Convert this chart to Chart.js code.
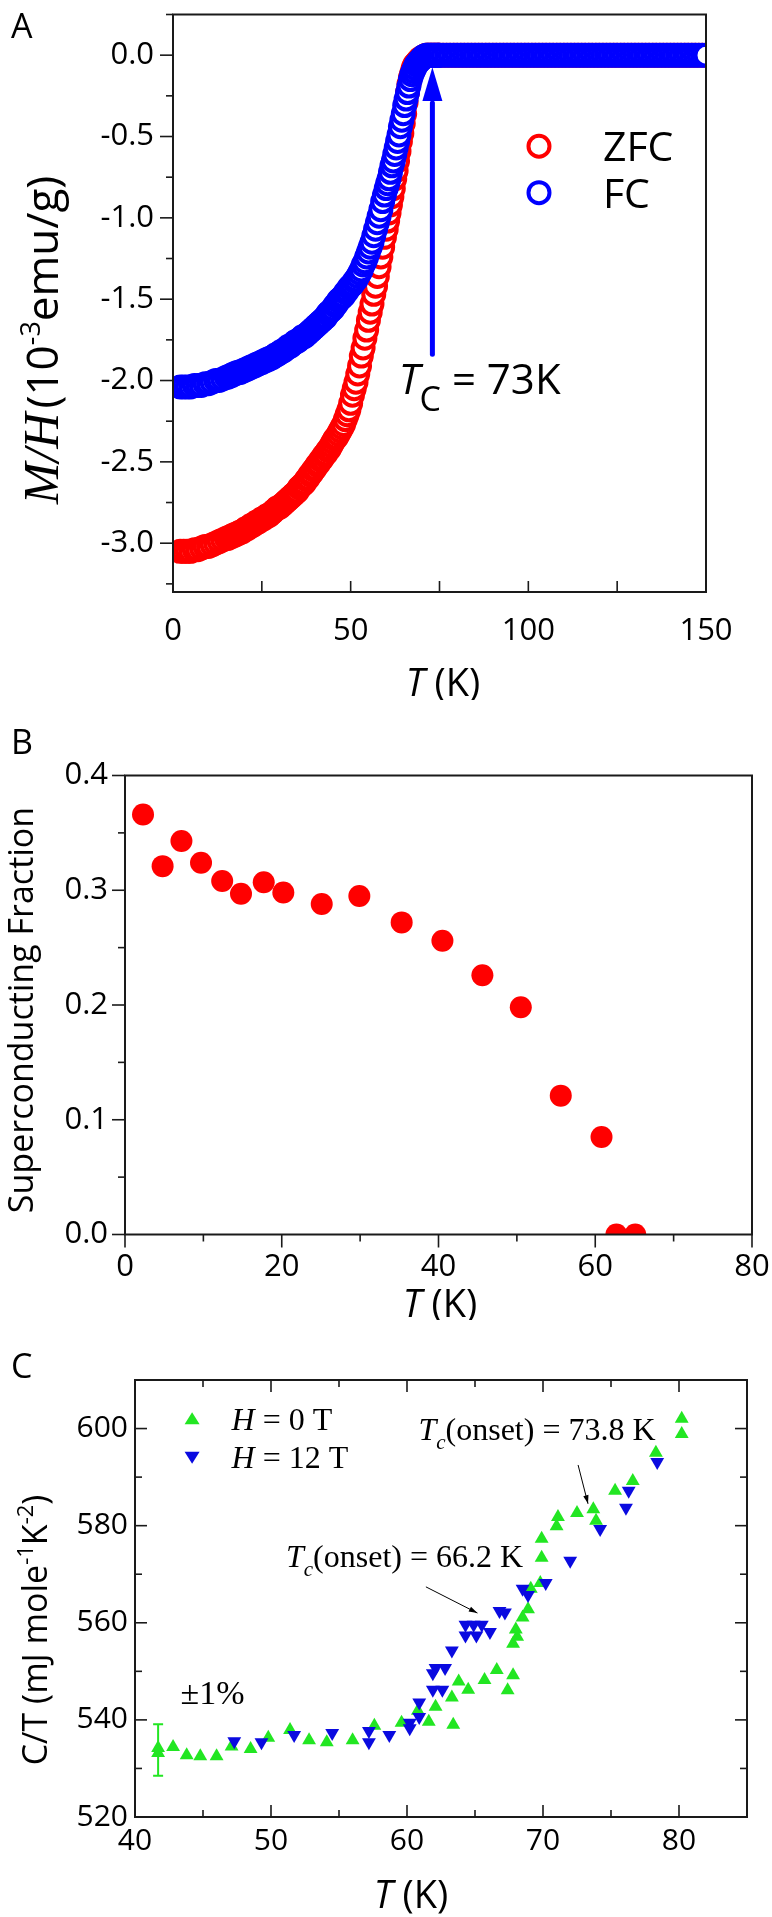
<!DOCTYPE html>
<html>
<head>
<meta charset="utf-8">
<style>
  body { margin: 0; background: #fff; }
  canvas { position: absolute; left: 0; }
</style>
</head>
<body>
<canvas id="chartA" width="772" height="700" style="top:0"></canvas>
<canvas id="chartB" width="772" height="620" style="top:700px"></canvas>
<canvas id="chartC" width="772" height="597" style="top:1320px"></canvas>

<script src="https://cdn.jsdelivr.net/npm/chart.js"></script>
<script>
// ---------- panel A : M/H vs T ----------
const tempA = [2,3,4,5,6,7,8,9,10,11,12,13,14,15,
  15.5,16,16.5,17,17.5,18,18.5,19,19.5,20,
  20.5,21,21.5,22,22.5,23,23.5,24,24.5,25,
  25.5,26,26.5,27,27.5,28,28.5,29,29.5,30,
  30.5,31,31.5,32,32.5,33,33.5,34,34.5,35,
  35.5,36,36.5,37,37.5,38,38.5,39,39.5,40,
  40.5,41,41.5,42,42.5,43,43.5,44,44.5,45,
  45.5,46,46.5,47,47.5,48,48.5,49,49.5,50,
  50.5,51,51.5,52,52.5,53,53.5,54,54.5,55,55.5,56,56.5,57,57.5,58,58.5,59,59.5,60,
  60.4,60.8,61.2,61.6,62,62.4,62.8,63.2,63.6,64,64.4,64.8,65.2,65.6,66,66.4,66.8,67.2,67.6,68,68.4,68.8,69.2,69.6,70,70.4,70.8,71.2,71.6,72,72.4,72.8,73.2,73.6,74,74.4,74.8,
  75,76,77,78,79,80,81,82,83,84,85,86,87,88,89,90,91,92,93,94,95,96,97,98,99,100,101,102,103,104,105,106,107,108,109,110,111,112,113,114,115,116,117,118,119,120,
  121,122,123,124,125,126,127,128,129,130,131,132,133,134,135,136,137,138,139,140,141,142,143,144,145,146,147,148,149,150];
const zfcA = [-3.05,-3.05,-3.05,-3.05,-3.04,-3.04,-3.03,-3.02,-3.02,-3.01,-3.00,-2.99,-2.98,-2.97,
  -2.97,-2.96,-2.96,-2.95,-2.95,-2.94,-2.94,-2.93,-2.93,-2.92,
  -2.91,-2.91,-2.90,-2.89,-2.89,-2.88,-2.87,-2.87,-2.86,-2.85,
  -2.85,-2.84,-2.83,-2.83,-2.82,-2.81,-2.80,-2.79,-2.78,-2.78,
  -2.77,-2.76,-2.75,-2.74,-2.73,-2.72,-2.71,-2.70,-2.69,-2.68,
  -2.66,-2.65,-2.64,-2.63,-2.61,-2.60,-2.58,-2.57,-2.55,-2.54,
  -2.52,-2.51,-2.49,-2.48,-2.46,-2.45,-2.43,-2.42,-2.40,-2.38,
  -2.36,-2.35,-2.33,-2.31,-2.29,-2.27,-2.24,-2.21,-2.18,-2.14,
  -2.09,-2.05,-2.01,-1.96,-1.91,-1.85,-1.80,-1.74,-1.69,-1.63,-1.58,-1.53,-1.47,-1.42,-1.36,-1.30,-1.24,-1.18,-1.12,-1.07,
  -1.02,-0.97,-0.92,-0.87,-0.82,-0.76,-0.71,-0.65,-0.59,-0.53,-0.48,-0.42,-0.36,-0.29,-0.23,-0.18,-0.14,-0.11,-0.08,-0.06,-0.05,-0.04,-0.03,-0.02,-0.02,-0.01,-0.01,0,0,0,0,0,0,0,0,0,0,
  0,0,0,0,0,0,0,0,0,0,0,0,0,0,0,0,0,0,0,0,0,0,0,0,0,0,0,0,0,0,0,0,0,0,0,0,0,0,0,0,0,0,0,0,0,0,
  0,0,0,0,0,0,0,0,0,0,0,0,0,0,0,0,0,0,0,0,0,0,0,0,0,0,0,0,0,0];
const fcA = [-2.04,-2.04,-2.04,-2.04,-2.03,-2.03,-2.03,-2.02,-2.02,-2.01,-2.00,-2.00,-1.99,-1.98,
  -1.98,-1.97,-1.97,-1.96,-1.96,-1.95,-1.95,-1.95,-1.94,-1.94,
  -1.93,-1.93,-1.92,-1.92,-1.91,-1.91,-1.90,-1.90,-1.89,-1.89,
  -1.88,-1.88,-1.87,-1.87,-1.86,-1.86,-1.85,-1.84,-1.84,-1.83,
  -1.82,-1.82,-1.81,-1.80,-1.79,-1.79,-1.78,-1.77,-1.76,-1.76,
  -1.75,-1.74,-1.73,-1.73,-1.72,-1.71,-1.70,-1.69,-1.68,-1.67,
  -1.66,-1.65,-1.64,-1.63,-1.62,-1.61,-1.59,-1.58,-1.57,-1.56,
  -1.54,-1.53,-1.51,-1.50,-1.49,-1.48,-1.46,-1.45,-1.43,-1.42,
  -1.41,-1.39,-1.38,-1.36,-1.34,-1.32,-1.29,-1.27,-1.24,-1.21,-1.18,-1.15,-1.11,-1.07,-1.03,-0.99,-0.95,-0.90,-0.86,-0.82,
  -0.79,-0.76,-0.72,-0.68,-0.65,-0.61,-0.57,-0.53,-0.49,-0.44,-0.40,-0.36,-0.31,-0.27,-0.23,-0.19,-0.15,-0.12,-0.10,-0.08,-0.06,-0.05,-0.04,-0.03,-0.02,-0.01,-0.01,0,0,0,0,0,0,0,0,0,0,
  0,0,0,0,0,0,0,0,0,0,0,0,0,0,0,0,0,0,0,0,0,0,0,0,0,0,0,0,0,0,0,0,0,0,0,0,0,0,0,0,0,0,0,0,0,0,
  0,0,0,0,0,0,0,0,0,0,0,0,0,0,0,0,0,0,0,0,0,0,0,0,0,0,0,0,0,0];
const ticksAx = [0, 50, 100, 150];
const minorAx = [25, 75, 125];
const ticksAy = [0, -0.5, -1, -1.5, -2, -2.5, -3];
const minorAy = [0.25, -0.25, -0.75, -1.25, -1.75, -2.25, -2.75, -3.25];

// ---------- panel B : superconducting fraction ----------
const tempB = [2.3, 4.8, 7.2, 9.7, 12.4, 14.8, 17.7, 20.2, 25.1, 29.9, 35.3, 40.5, 45.6, 50.5, 55.6, 60.8, 62.7, 65.1];
const fracB = [0.366, 0.321, 0.343, 0.324, 0.308, 0.297, 0.307, 0.298, 0.288, 0.295, 0.272, 0.256, 0.226, 0.198, 0.121, 0.085, 0, 0];
const ticksBx = [0, 20, 40, 60, 80];
const minorBx = [10, 30, 50, 70];
const ticksBy = [0, 0.1, 0.2, 0.3, 0.4];
const minorBy = [0.05, 0.15, 0.25, 0.35];

// ---------- panel C : C/T ----------
const tempC0 = [41.7, 41.7, 42.8, 43.8, 44.8, 46.0, 47.1, 48.5, 49.8, 51.4, 52.8, 54.1, 56.0, 57.6, 59.6, 60.8, 61.6, 62.1, 63.3, 63.4, 63.8, 64.5, 65.7, 66.6, 67.4, 67.8, 67.8, 68.0, 68.1, 68.5, 68.9, 69.1, 69.8, 69.9, 69.9, 71.0, 71.1, 72.5, 73.7, 73.9, 75.3, 76.6, 78.3, 80.2, 80.2];
const cpC0 = [534.2, 533.2, 534.4, 532.7, 532.5, 532.5, 534.5, 534.0, 536.3, 537.9, 535.8, 535.4, 535.8, 538.8, 539.4, 541.9, 539.6, 542.7, 544.6, 539.0, 547.9, 546.2, 548.2, 550.3, 546.1, 549.2, 555.7, 558.6, 557.1, 561.1, 562.8, 567.0, 568.2, 573.4, 577.3, 579.9, 581.8, 582.6, 583.4, 581.0, 587.2, 589.2, 595.0, 602.0, 598.9];
const tempC12 = [47.3, 49.3, 51.7, 54.5, 57.2, 57.2, 58.7, 60.2, 60.2, 60.9, 60.9, 61.9, 61.9, 62.1, 62.6, 62.8, 63.3, 64.3, 64.9, 65.5, 64.3, 65.1, 66.1, 66.8, 67.2, 68.5, 68.9, 70.2, 72.0, 74.2, 76.1, 76.3, 78.4];
const cpC12 = [535.6, 535.4, 536.9, 537.3, 537.7, 535.4, 536.9, 539.4, 538.3, 540.6, 543.6, 546.2, 549.6, 550.7, 546.2, 550.7, 554.3, 559.6, 559.6, 559.6, 557.4, 557.4, 558.1, 562.4, 562.1, 567.0, 565.7, 568.2, 572.8, 579.3, 583.7, 587.2, 593.1];
const errT = [41.7];
const errMid = [533.8];
const errSize = [5.3];
const ticksCx = [40, 50, 60, 70, 80];
const minorCx = [45, 55, 65, 75, 85];
const ticksCy = [520, 540, 560, 580, 600];
const minorCy = [530, 550, 570, 590, 610];

const SANS = '"Open Sans", "Noto Sans", sans-serif';
const SERIF = '"Liberation Serif", "DejaVu Serif", serif';
const RED = '#ff0000', BLUE = '#0000ff', GREEN = '#22e622', BLUE_C = '#0a0ae0';

function pts(xs, ys) { return xs.map((x, i) => ({x: x, y: ys[i]})); }

// draws a run of text pieces with different fonts, left to right (alphabetic baseline)
function rich(ctx, x, y, parts, align) {
  let w = 0;
  parts.forEach(p => { ctx.font = p.f; w += ctx.measureText(p.t).width + (p.gap || 0); });
  let cx = align === 'center' ? x - w / 2 : x;
  ctx.textAlign = 'left';
  ctx.textBaseline = 'alphabetic';
  parts.forEach(p => {
    ctx.font = p.f;
    ctx.fillText(p.t, cx, y + (p.dy || 0));
    cx += ctx.measureText(p.t).width + (p.gap || 0);
  });
}

function fixedArea(L, T, R, B, W, H) {
  return {
    layout: {padding: {left: 0, top: T, right: W - R, bottom: 0}},
    xFit: s => { s.height = H - B; s.paddingLeft = s.paddingRight = s.paddingTop = s.paddingBottom = 0; },
    yFit: s => { s.width = L; s.paddingLeft = s.paddingRight = s.paddingTop = s.paddingBottom = 0; }
  };
}

// frame + tick marks, drawn through the chart scales
function frameTicks(chart, spec) {
  const ctx = chart.ctx, a = chart.chartArea, sx = chart.scales.x, sy = chart.scales.y;
  ctx.save();
  ctx.strokeStyle = '#1a1a1a';
  ctx.lineWidth = 2;
  ctx.strokeRect(a.left, a.top, a.right - a.left, a.bottom - a.top);
  ctx.lineWidth = 1.6;
  const mark = (side, vals, len, dir) => {
    vals.forEach(v => {
      ctx.beginPath();
      if (side === 'left' || side === 'right') {
        const p = sy.getPixelForValue(v);
        if (p < a.top - 0.5 || p > a.bottom + 0.5) return;
        const x0 = side === 'left' ? a.left : a.right;
        const sgn = (side === 'left' ? 1 : -1) * (dir === 'in' ? 1 : -1);
        ctx.moveTo(x0, p); ctx.lineTo(x0 + sgn * len, p);
      } else {
        const p = sx.getPixelForValue(v);
        if (p < a.left - 0.5 || p > a.right + 0.5) return;
        const y0 = side === 'bottom' ? a.bottom : a.top;
        const sgn = (side === 'bottom' ? -1 : 1) * (dir === 'in' ? 1 : -1);
        ctx.moveTo(p, y0); ctx.lineTo(p, y0 + sgn * len);
      }
      ctx.stroke();
    });
  };
  spec.forEach(s => mark(s[0], s[1], s[2], s[3]));
  ctx.restore();
}

// ================= chart A =================
(function () {
  const fa = fixedArea(173, 3, 706, 592, 772, 700);
  const deco = {
    id: 'decoA',
    afterDraw(chart) {
      const ctx = chart.ctx, sx = chart.scales.x, sy = chart.scales.y;
      frameTicks(chart, [
        ['left', ticksAy, 13, 'out'], ['left', minorAy, 7, 'out'],
        ['bottom', ticksAx, 11, 'in'], ['bottom', minorAx, 11, 'in']
      ]);
      ctx.save();
      ctx.fillStyle = '#000';
      rich(ctx, 11, 38, [{t: 'A', f: '34px ' + SANS}], 'left');
      // x title
      rich(ctx, 443, 696, [{t: 'T', f: 'italic 38px ' + SANS}, {t: ' (K)', f: '38px ' + SANS}], 'center');
      // y title
      ctx.save();
      ctx.translate(58, 340);
      ctx.rotate(-Math.PI / 2);
      rich(ctx, 0, 0, [
        {t: 'M/H', f: 'italic 50px ' + SERIF, gap: 4},
        {t: '(10', f: '44px ' + SANS},
        {t: '-3', f: '27px ' + SANS, dy: -18},
        {t: 'emu/g)', f: '44px ' + SANS}
      ], 'center');
      ctx.restore();
      // legend
      const lx = sx.getPixelForValue(103);
      [[-0.56, RED, 'ZFC'], [-0.845, BLUE, 'FC']].forEach(r => {
        const y = sy.getPixelForValue(r[0]);
        ctx.beginPath();
        ctx.arc(lx, y, 10.5, 0, Math.PI * 2);
        ctx.lineWidth = 4; ctx.strokeStyle = r[1]; ctx.stroke();
        rich(ctx, sx.getPixelForValue(121), y + 15, [{t: r[2], f: '41px ' + SANS}], 'left');
      });
      // Tc arrow
      const ax = sx.getPixelForValue(73);
      const yTip = sy.getPixelForValue(-0.074), yBase = sy.getPixelForValue(-0.282), yEnd = sy.getPixelForValue(-1.838);
      ctx.strokeStyle = BLUE; ctx.fillStyle = BLUE; ctx.lineWidth = 5;
      ctx.lineCap = 'round';
      ctx.beginPath(); ctx.moveTo(ax, yEnd); ctx.lineTo(ax, yBase + 2); ctx.stroke();
      ctx.beginPath(); ctx.moveTo(ax, yTip); ctx.lineTo(ax - 10, yBase); ctx.lineTo(ax + 10, yBase); ctx.closePath(); ctx.fill();
      ctx.fillStyle = '#000';
      rich(ctx, sx.getPixelForValue(63.5), 394, [
        {t: 'T', f: 'italic 42px ' + SANS},
        {t: 'C', f: '34px ' + SANS, dy: 17},
        {t: ' = 73K', f: '42px ' + SANS}
      ], 'left');
      ctx.restore();
    }
  };
  new Chart(document.getElementById('chartA'), {
    type: 'scatter',
    data: {
      datasets: [
        {label: 'FC', data: pts(tempA, fcA), borderColor: BLUE, backgroundColor: '#fff',
         pointRadius: 10.5, pointBorderWidth: 4, pointHoverRadius: 10.5, clip: 0},
        {label: 'ZFC', data: pts(tempA, zfcA), borderColor: RED, backgroundColor: '#fff',
         pointRadius: 10.5, pointBorderWidth: 4, pointHoverRadius: 10.5, clip: 0}
      ]
    },
    options: {
      responsive: false, animation: false, events: [],
      layout: fa.layout,
      plugins: {legend: {display: false}, tooltip: {enabled: false}},
      scales: {
        x: {min: 0, max: 150, afterFit: fa.xFit,
            afterBuildTicks: s => { s.ticks = ticksAx.map(v => ({value: v})); },
            grid: {display: false, drawTicks: false}, border: {display: false},
            ticks: {padding: 21, color: '#000', font: {family: SANS, size: 31}}},
        y: {min: -3.3, max: 0.25, afterFit: fa.yFit,
            afterBuildTicks: s => { s.ticks = ticksAy.map(v => ({value: v})); },
            grid: {display: false, drawTicks: false}, border: {display: false},
            ticks: {padding: 19, color: '#000', font: {family: SANS, size: 31}, callback: v => v.toFixed(1)}}
      }
    },
    plugins: [deco]
  });
})();

// ================= chart B =================
(function () {
  const fa = fixedArea(125, 75.5, 752, 534.5, 772, 620);
  const deco = {
    id: 'decoB',
    afterDraw(chart) {
      const ctx = chart.ctx;
      frameTicks(chart, [
        ['left', ticksBy, 13, 'out'], ['left', minorBy, 7, 'out'],
        ['bottom', ticksBx, 13, 'out'], ['bottom', minorBx, 7, 'out']
      ]);
      ctx.save();
      ctx.fillStyle = '#000';
      rich(ctx, 11, 54, [{t: 'B', f: '34px ' + SANS}], 'left');
      rich(ctx, 440, 617, [{t: 'T', f: 'italic 38px ' + SANS}, {t: ' (K)', f: '38px ' + SANS}], 'center');
      ctx.save();
      ctx.translate(33, 310);
      ctx.rotate(-Math.PI / 2);
      rich(ctx, 0, 0, [{t: 'Superconducting Fraction', f: '34px ' + SANS}], 'center');
      ctx.restore();
      ctx.restore();
    }
  };
  new Chart(document.getElementById('chartB'), {
    type: 'scatter',
    data: {
      datasets: [
        {label: 'fraction', data: pts(tempB, fracB), backgroundColor: RED, borderColor: RED,
         pointRadius: 11, pointBorderWidth: 0, pointHoverRadius: 11, clip: 0}
      ]
    },
    options: {
      responsive: false, animation: false, events: [],
      layout: fa.layout,
      plugins: {legend: {display: false}, tooltip: {enabled: false}},
      scales: {
        x: {min: 0, max: 80, afterFit: fa.xFit,
            afterBuildTicks: s => { s.ticks = ticksBx.map(v => ({value: v})); },
            grid: {display: false, drawTicks: false}, border: {display: false},
            ticks: {padding: 14, color: '#000', font: {family: SANS, size: 31}}},
        y: {min: 0, max: 0.4, afterFit: fa.yFit,
            afterBuildTicks: s => { s.ticks = ticksBy.map(v => ({value: v})); },
            grid: {display: false, drawTicks: false}, border: {display: false},
            ticks: {padding: 17, color: '#000', font: {family: SANS, size: 31}, callback: v => v.toFixed(1)}}
      }
    },
    plugins: [deco]
  });
})();

// ================= chart C =================
(function () {
  const fa = fixedArea(135, 60, 747, 497, 772, 597);
  const deco = {
    id: 'decoC',
    beforeDatasetsDraw(chart) {
      // ±1% error bar
      const ctx = chart.ctx, sx = chart.scales.x, sy = chart.scales.y;
      ctx.save();
      ctx.strokeStyle = GREEN; ctx.lineWidth = 2;
      errT.forEach((t, i) => {
        const x = sx.getPixelForValue(t);
        const y1 = sy.getPixelForValue(errMid[i] + errSize[i]), y2 = sy.getPixelForValue(errMid[i] - errSize[i]);
        ctx.beginPath();
        ctx.moveTo(x, y1); ctx.lineTo(x, y2);
        ctx.moveTo(x - 5, y1); ctx.lineTo(x + 5, y1);
        ctx.moveTo(x - 5, y2); ctx.lineTo(x + 5, y2);
        ctx.stroke();
      });
      ctx.restore();
    },
    afterDraw(chart) {
      const ctx = chart.ctx, sx = chart.scales.x, sy = chart.scales.y;
      frameTicks(chart, [
        ['left', ticksCy, 12, 'in'], ['left', minorCy, 7, 'in'],
        ['right', ticksCy, 12, 'in'], ['right', minorCy, 7, 'in'],
        ['bottom', ticksCx, 12, 'in'], ['bottom', minorCx, 7, 'in'],
        ['top', ticksCx, 12, 'in'], ['top', minorCx, 7, 'in']
      ]);
      ctx.save();
      ctx.fillStyle = '#000';
      rich(ctx, 11, 58, [{t: 'C', f: '34px ' + SANS}], 'left');
      rich(ctx, 411, 588, [{t: 'T', f: 'italic 38px ' + SANS}, {t: ' (K)', f: '38px ' + SANS}], 'center');
      ctx.save();
      ctx.translate(47, 310);
      ctx.rotate(-Math.PI / 2);
      rich(ctx, 0, 0, [
        {t: 'C/T (mJ mole', f: '34px ' + SANS},
        {t: '-1', f: '22px ' + SANS, dy: -14},
        {t: 'K', f: '34px ' + SANS},
        {t: '-2', f: '22px ' + SANS, dy: -14},
        {t: ')', f: '34px ' + SANS}
      ], 'center');
      ctx.restore();
      // legend
      const lx = sx.getPixelForValue(44.2);
      [[601.9, GREEN, false, 'H', ' = 0 T'], [594.2, BLUE_C, true, 'H', ' = 12 T']].forEach(r => {
        const y = sy.getPixelForValue(r[0]);
        ctx.fillStyle = r[1];
        ctx.beginPath();
        if (!r[2]) { ctx.moveTo(lx, y - 7); ctx.lineTo(lx + 7.5, y + 5); ctx.lineTo(lx - 7.5, y + 5); }
        else { ctx.moveTo(lx, y + 7); ctx.lineTo(lx + 7.5, y - 5); ctx.lineTo(lx - 7.5, y - 5); }
        ctx.closePath(); ctx.fill();
        ctx.fillStyle = '#000';
        rich(ctx, sx.getPixelForValue(47.1), y + 11, [
          {t: r[3], f: 'italic 32px ' + SERIF}, {t: r[4], f: '32px ' + SERIF}
        ], 'left');
      });
      // annotations
      const note = (t, v, txt) => rich(ctx, sx.getPixelForValue(t), sy.getPixelForValue(v) + 11, [
        {t: 'T', f: 'italic 32px ' + SERIF},
        {t: 'c', f: 'italic 21px ' + SERIF, dy: 9},
        {t: '(onset) = ' + txt, f: '32px ' + SERIF}
      ], 'left');
      note(60.84, 600, '73.8 K');
      note(51.1, 573.7, '66.2 K');
      rich(ctx, sx.getPixelForValue(43.35), sy.getPixelForValue(545.7) + 12, [{t: '\u00b11%', f: '34px ' + SERIF}], 'left');
      const arrow = (t1, v1, t2, v2) => {
        const x1 = sx.getPixelForValue(t1), y1 = sy.getPixelForValue(v1);
        const x2 = sx.getPixelForValue(t2), y2 = sy.getPixelForValue(v2);
        const ang = Math.atan2(y2 - y1, x2 - x1);
        ctx.strokeStyle = '#000'; ctx.lineWidth = 1;
        ctx.beginPath(); ctx.moveTo(x1, y1); ctx.lineTo(x2, y2); ctx.stroke();
        ctx.beginPath();
        ctx.moveTo(x2, y2);
        ctx.lineTo(x2 - 9 * Math.cos(ang - 0.3), y2 - 9 * Math.sin(ang - 0.3));
        ctx.lineTo(x2 - 9 * Math.cos(ang + 0.3), y2 - 9 * Math.sin(ang + 0.3));
        ctx.closePath(); ctx.fill();
      };
      arrow(72.58, 592.5, 73.31, 584.5);
      arrow(61.39, 567.4, 65.18, 562.0);
      ctx.restore();
    }
  };
  new Chart(document.getElementById('chartC'), {
    type: 'scatter',
    data: {
      datasets: [
        {label: 'H = 12 T', data: pts(tempC12, cpC12), backgroundColor: BLUE_C, borderColor: BLUE_C,
         pointStyle: 'triangle', rotation: 180, pointRadius: 8, pointBorderWidth: 0, pointHoverRadius: 8},
        {label: 'H = 0 T', data: pts(tempC0, cpC0), backgroundColor: GREEN, borderColor: GREEN,
         pointStyle: 'triangle', pointRadius: 8, pointBorderWidth: 0, pointHoverRadius: 8}
      ]
    },
    options: {
      responsive: false, animation: false, events: [],
      layout: fa.layout,
      plugins: {legend: {display: false}, tooltip: {enabled: false}},
      scales: {
        x: {min: 40, max: 85, afterFit: fa.xFit,
            afterBuildTicks: s => { s.ticks = ticksCx.map(v => ({value: v})); },
            grid: {display: false, drawTicks: false}, border: {display: false},
            ticks: {padding: 6, color: '#000', font: {family: SANS, size: 30}}},
        y: {min: 520, max: 610, afterFit: fa.yFit,
            afterBuildTicks: s => { s.ticks = ticksCy.map(v => ({value: v})); },
            grid: {display: false, drawTicks: false}, border: {display: false},
            ticks: {padding: 7, color: '#000', font: {family: SANS, size: 30}}}
      }
    },
    plugins: [deco]
  });
})();
</script>
</body>
</html>
